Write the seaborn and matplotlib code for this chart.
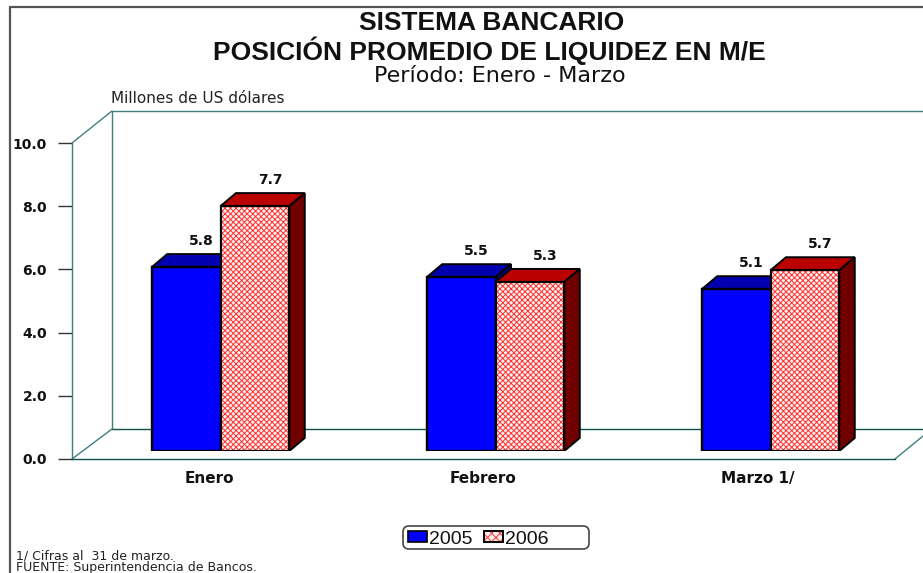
import matplotlib
matplotlib.use("Agg")
import matplotlib.pyplot as plt
import pandas as pd
import seaborn as sns
from matplotlib.patches import FancyBboxPatch, Patch, Polygon, Rectangle
from matplotlib.legend_handler import HandlerTuple

months = ["Enero", "Febrero", "Marzo 1/"]
series_names = ["2005", "2006"]
values_2005 = [5.8, 5.5, 5.1]
values_2006 = [7.7, 5.3, 5.7]
bar_heights_2005 = [5.82, 5.5, 5.12]
bar_heights_2006 = [7.75, 5.35, 5.72]
y_ticks = [0, 2, 4, 6, 8, 10]

W, H = 923, 573
sns.set_theme(style="white")
plt.rcParams["font.family"] = ["Liberation Sans", "DejaVu Sans"]
plt.rcParams["hatch.linewidth"] = 0.7

fig = plt.figure(figsize=(W / 100, H / 100), dpi=100, facecolor="white")


def rect(l, t, r, b):
    return [l / W, 1 - b / H, (r - l) / W, (b - t) / H]


# backdrop in pixel coordinates: frame, back wall, floor
bg = fig.add_axes([0, 0, 1, 1], zorder=0)
bg.set_xlim(0, W)
bg.set_ylim(H, 0)
bg.axis("off")
FRAME = "#555555"
WALL = "#3f7f7f"
FLOOR = "#0f5050"
bg.plot([10, 10], [H, 7], color=FRAME, lw=1.6)
bg.plot([10, W], [7, 7], color=FRAME, lw=1.6)
bg.plot([112, 112, W], [429, 111, 111], color=WALL, lw=1)
bg.plot([112, W], [429, 429], color=FLOOR, lw=1)
bg.plot([72, 112], [143, 111], color=WALL, lw=1)
bg.plot([72, 112], [459, 429], color=WALL, lw=1)
bg.plot([895, 923], [459, 436], color=WALL, lw=1)

bg.text(492, 22.5, "SISTEMA BANCARIO", ha="center", va="center",
        fontsize=19, fontweight="bold", color="#111111")
bg.text(489, 50.5, "POSICIÓN PROMEDIO DE LIQUIDEZ EN M/E", ha="center", va="center",
        fontsize=19, fontweight="bold", color="#111111")
bg.text(500, 76, "Período: Enero - Marzo", ha="center", va="center",
        fontsize=16, color="#111111", family="DejaVu Sans")
bg.text(111, 98.5, "Millones de US dólares", ha="left", va="center",
        fontsize=11, color="#222222", family="DejaVu Sans")
bg.text(16, 556, "1/ Cifras al  31 de marzo.", ha="left", va="center",
        fontsize=9, color="#222222", family="DejaVu Sans")
bg.text(16, 568, "FUENTE: Superintendencia de Bancos.", ha="left", va="center",
        fontsize=9, color="#222222", family="DejaVu Sans")
bg.add_patch(FancyBboxPatch((408, 531), 176, 13, boxstyle="round,pad=5,rounding_size=6",
                            facecolor="white", edgecolor="#444444", lw=1.2))

# front axis frame: value scale and month labels
ax = fig.add_axes(rect(72, 143, 895, 459), zorder=1)
ax.patch.set_alpha(0)
ax.set_xlim(-0.5, 2.5)
ax.set_ylim(0, 10)
ax.set_xticks(range(len(months)), months, fontsize=11, fontweight="bold",
              family="DejaVu Sans", color="#111111", va="baseline")
ax.set_yticks(y_ticks, [f"{v:.1f}" for v in y_ticks], fontsize=10, fontweight="bold",
              family="DejaVu Sans", color="#111111")
ax.tick_params(axis="y", length=10, width=1, color="#333333", pad=8, left=True)
ax.tick_params(axis="x", length=0, pad=17)
for name, sp in ax.spines.items():
    sp.set_visible(name in ("left", "bottom"))
ax.spines["left"].set_color(WALL)
ax.spines["left"].set_linewidth(1)
ax.spines["bottom"].set_color(FLOOR)
ax.spines["bottom"].set_linewidth(1)
ax.grid(False)

# bars on an axes shifted into the depth of the chart
axb = fig.add_axes(rect(83, 135, 908, 451), zorder=2)
axb.patch.set_alpha(0)
df = pd.DataFrame({
    "mes": months * 2,
    "valor": bar_heights_2005 + bar_heights_2006,
    "serie": [series_names[0]] * 3 + [series_names[1]] * 3,
})
sns.barplot(data=df, x="mes", y="valor", hue="serie", order=months,
            hue_order=series_names, palette=["#0000ff", "#fff0f0"],
            width=0.5, gap=0, saturation=1, legend=False, ax=axb)
axb.set_xlim(-0.5, 2.5)
axb.set_ylim(0, 10)
axb.axis("off")

dx = 15.5 / 275
dy = 13 / 31.6
top_colors = {0: "#0000b0", 1: "#bb0000"}
side_colors = {0: "#000080", 1: "#700000"}
labels = values_2005 + values_2006
bars = list(axb.patches)
for i, bar in enumerate(bars):
    group = i // 3
    x0, w, h = bar.get_x(), bar.get_width(), bar.get_height()
    x1 = x0 + w
    z = 3 + group * 2
    bar.set_zorder(z + 0.5)
    if group == 1:
        bar.set_edgecolor("#ff3030")
        bar.set_hatch("xxxxxx")
        bar.set_linewidth(0)
    else:
        bar.set_edgecolor("black")
        bar.set_linewidth(1.6)
    axb.add_patch(Polygon([(x0, h), (x1, h), (x1 + dx, h + dy), (x0 + dx, h + dy)],
                          facecolor=top_colors[group], edgecolor="black", lw=1.4, zorder=z))
    axb.add_patch(Polygon([(x1, 0), (x1 + dx, dy), (x1 + dx, h + dy), (x1, h)],
                          facecolor=side_colors[group], edgecolor="black", lw=1.4, zorder=z))
    axb.add_patch(Rectangle((x0, 0), w, h, fill=False, edgecolor="black", lw=1.6,
                            zorder=z + 0.6))
    axb.annotate(f"{labels[i]:.1f}", (x0 + w / 2 + dx, h + dy), xytext=(0, 13),
                 textcoords="offset pixels", ha="center", va="center",
                 fontsize=10, fontweight="bold", family="DejaVu Sans",
                 color="#111111", annotation_clip=False, zorder=10)

# legend
h05 = Patch(facecolor="#0000ff", edgecolor="black", lw=1.2)
h06a = Patch(facecolor="#fff0f0", edgecolor="#ff3030", hatch="xxxx", lw=0)
h06b = Patch(fill=False, edgecolor="black", lw=1.4)
leg = fig.legend([h05, (h06a, h06b)], series_names,
                 handler_map={tuple: HandlerTuple(ndivide=1, pad=0)},
                 loc="center left", bbox_to_anchor=(408 / W, 1 - 539 / H), ncol=2,
                 fontsize=14, frameon=False, handlelength=1.0, handleheight=0.55,
                 handletextpad=0.1, columnspacing=0.55, borderpad=0, borderaxespad=0)
for t in leg.get_texts():
    t.set_color("#111111")

fig.savefig("out.png", dpi=100)
